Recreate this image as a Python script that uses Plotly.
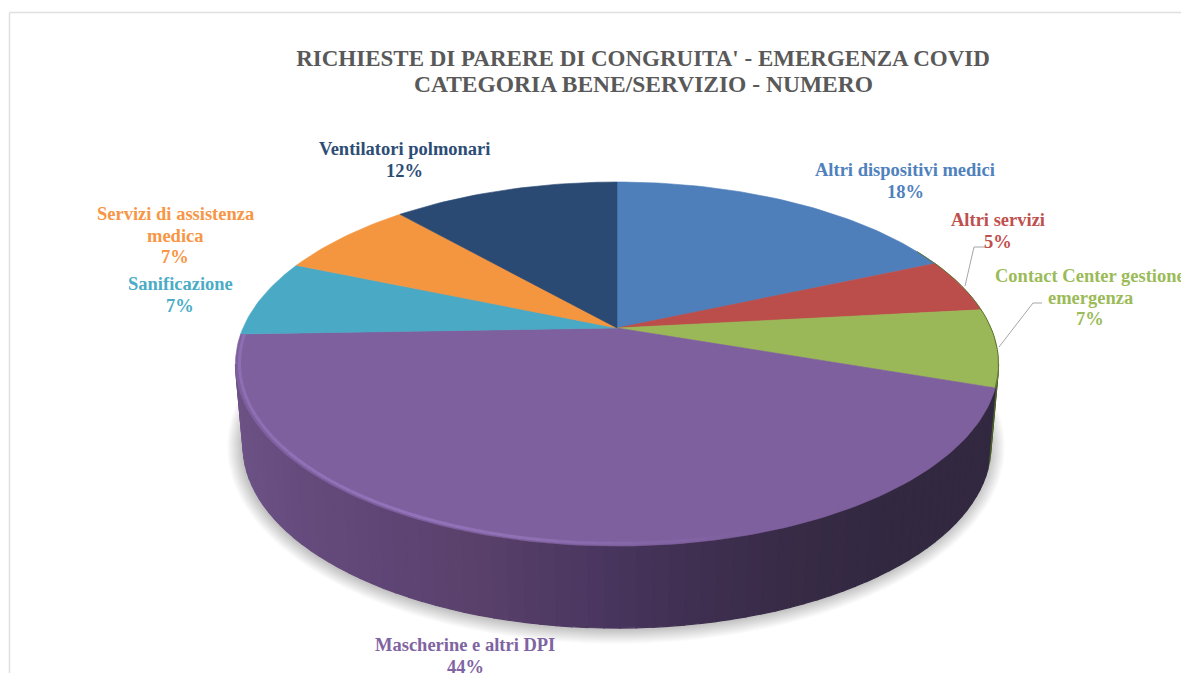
import numpy as np
import plotly.graph_objects as go

categories = ["Altri dispositivi medici", "Altri servizi", "Contact Center gestione emergenza",
              "Mascherine e altri DPI", "Sanificazione", "Servizi di assistenza medica",
              "Ventilatori polmonari"]
values = [18.49, 4.81, 6.9, 44.26, 6.84, 7.1, 11.6]
colors = ["#4f7fba", "#bb4e4b", "#9bb858", "#7f609e", "#4aaac5", "#f49540", "#2a4a74"]
text_colors = ["#4f81bd", "#c0504d", "#9bbb59", "#8064a2", "#4bacc6", "#f79646", "#2c4d75"]
label_lines = [["Altri dispositivi medici"], ["Altri servizi"], ["Contact Center gestione", "emergenza"],
               ["Mascherine e altri DPI"], ["Sanificazione"], ["Servizi di assistenza", "medica"],
               ["Ventilatori polmonari"]]
label_x = [905, 998, 1090, 465, 180, 175, 404]
label_y = [170, 220, 276, 645, 284, 214, 149]
title_lines = ["RICHIESTE DI PARERE DI CONGRUITA' - EMERGENZA COVID", "CATEGORIA BENE/SERVIZIO - NUMERO"]

CX, CY, AX, BY, K = 617.0, 328.0, 374.0, 174.9, -0.198
DEPTH = 82.0
SHRINK = 0.98
VIS0, VIS1 = 101.4, 258.6
FONT = "Liberation Serif"
LINE_STEP = 21.5


def top(theta_deg, scale=1.0):
    t = np.radians(theta_deg)
    u, v = np.sin(t) * scale, -np.cos(t) * scale
    d = 1 + K * v
    return CX + AX * u / d, CY + BY * v / d


def bottom(theta_deg):
    x, y = top(theta_deg)
    return CX + SHRINK * (x - CX), y + DEPTH


def lerp_color(stops, x):
    xs = [s[0] for s in stops]
    rgb = [np.interp(x, xs, [int(s[1][i:i + 2], 16) for s in stops]) for i in (1, 3, 5)]
    return "rgb(%d,%d,%d)" % tuple(rgb)


wall_stops = [(235, "#6d5386"), (300, "#664c7e"), (400, "#5e4574"), (500, "#574069"),
              (600, "#4a3660"), (700, "#3f2f50"), (800, "#372b46"), (900, "#322840"), (1000, "#322840")]
green_wall = [(980, "#66803a"), (1000, "#3f4f25")]
rim_stops = [(235, "#8f6fb4"), (400, "#9373ba"), (520, "#9071b5"), (640, "#8567a8"), (760, "#7f609e"), (1000, "#7f609e")]

fig = go.Figure()


def poly(xs, ys, fill, line=None, lw=1.2):
    fig.add_trace(go.Scatter(x=xs, y=ys, mode="lines", fill="toself", fillcolor=fill,
                             line=dict(color=line or fill, width=lw), hoverinfo="skip", showlegend=False))


# soft ground shadow
full = np.linspace(0, 360, 181)
bx, by = bottom(full)
for r in range(15, 0, -1):
    sx = CX + (bx - CX) * (1 + r / 373.0) - 1
    sy = (CY + 118) + (by - (CY + 118)) * (1 + r / 183.0) + 1
    poly(sx.tolist(), sy.tolist(), "rgba(0,0,0,0.014)", "rgba(0,0,0,0)", 0)

edges = np.cumsum([0] + values) * 3.6

# side wall strips, built from the slice angles
for i, v in enumerate(values):
    lo, hi = max(edges[i], VIS0), min(edges[i + 1], VIS1)
    if hi <= lo:
        continue
    n = max(2, int((hi - lo) / 2.0))
    grid = np.linspace(lo, hi, n + 1)
    for a, b in zip(grid[:-1], grid[1:]):
        tx, ty = top(np.array([a, b]))
        ux, uy = bottom(np.array([b, a]))
        stops = green_wall if i == 2 else wall_stops
        c = lerp_color(stops, (tx.mean() + ux.mean()) / 2)
        poly(list(tx) + list(ux) + [tx[0]], list(ty) + list(uy) + [ty[0]], c)

# top face slices
for i, v in enumerate(values):
    th = np.linspace(edges[i], edges[i + 1], max(8, int(v * 3)))
    x, y = top(th)
    poly([CX] + x.tolist() + [CX], [CY] + y.tolist() + [CY], colors[i], lw=0.6)

# bevel on the rim of the front slice
i_mask = categories.index("Mascherine e altri DPI")
th = np.linspace(edges[i_mask], edges[i_mask + 1], 70)
for a, b in zip(th[:-1], th[1:]):
    x, y = top(np.array([a, b]), 0.99)
    fig.add_trace(go.Scatter(x=x, y=y, mode="lines", hoverinfo="skip", showlegend=False,
                             line=dict(color=lerp_color(rim_stops, x.mean()), width=3)))
th = np.linspace(VIS0 - 40, edges[3], 25)
x, y = top(th)
fig.add_trace(go.Scatter(x=x, y=y, mode="lines", hoverinfo="skip", showlegend=False,
                         line=dict(color="#5d7432", width=1)))

# leader lines
grey = "#a6a6a6"
leader_altri_x, leader_altri_y = [965, 974, 985], [286, 247, 247]
leader_cc_x, leader_cc_y = [999, 1033, 1042], [347, 303, 303]
for lx, ly in ((leader_altri_x, leader_altri_y), (leader_cc_x, leader_cc_y)):
    fig.add_trace(go.Scatter(x=lx, y=ly, mode="lines", line=dict(color=grey, width=1),
                             hoverinfo="skip", showlegend=False))

for i, c in enumerate(categories):
    lines = label_lines[i] + [f"{round(values[i])}%"]
    for j, line in enumerate(lines):
        fig.add_annotation(x=label_x[i], y=label_y[i] + j * LINE_STEP, xref="x", yref="y", showarrow=False,
                           text=f"<b>{line}</b>", xanchor="center", yanchor="middle",
                           font=dict(family=FONT, size=18.5, color=text_colors[i]))

fig.add_annotation(x=643, y=84, xref="x", yref="y", showarrow=False, text=f"<b>{title_lines[1]}</b>",
                   xanchor="center", yanchor="middle", font=dict(family=FONT, size=23.5, color="#595959"))

fig.update_layout(
    width=1181, height=673, margin=dict(l=0, r=0, t=0, b=0),
    paper_bgcolor="white", plot_bgcolor="white", showlegend=False,
    title=dict(text=f"<b>{title_lines[0]}</b>", x=643 / 1181, y=1 - 58 / 673, xanchor="center", yanchor="middle",
               xref="paper", yref="paper", font=dict(family=FONT, size=23, color="#595959")),
    xaxis=dict(range=[0, 1181], visible=False, fixedrange=True),
    yaxis=dict(range=[673, 0], visible=False, fixedrange=True),
    shapes=[dict(type="line", x0=9.5, x1=9.5, y0=12.5, y1=673, xref="x", yref="y", line=dict(color="#e0e0e0", width=1.5)),
            dict(type="line", x0=9.5, x1=1181, y0=12.5, y1=12.5, xref="x", yref="y", line=dict(color="#e0e0e0", width=1.5))],
)
fig.write_html("out.html", config=dict(displayModeBar=False),
               post_script="document.body.style.margin='0';document.documentElement.style.overflow='hidden';")
